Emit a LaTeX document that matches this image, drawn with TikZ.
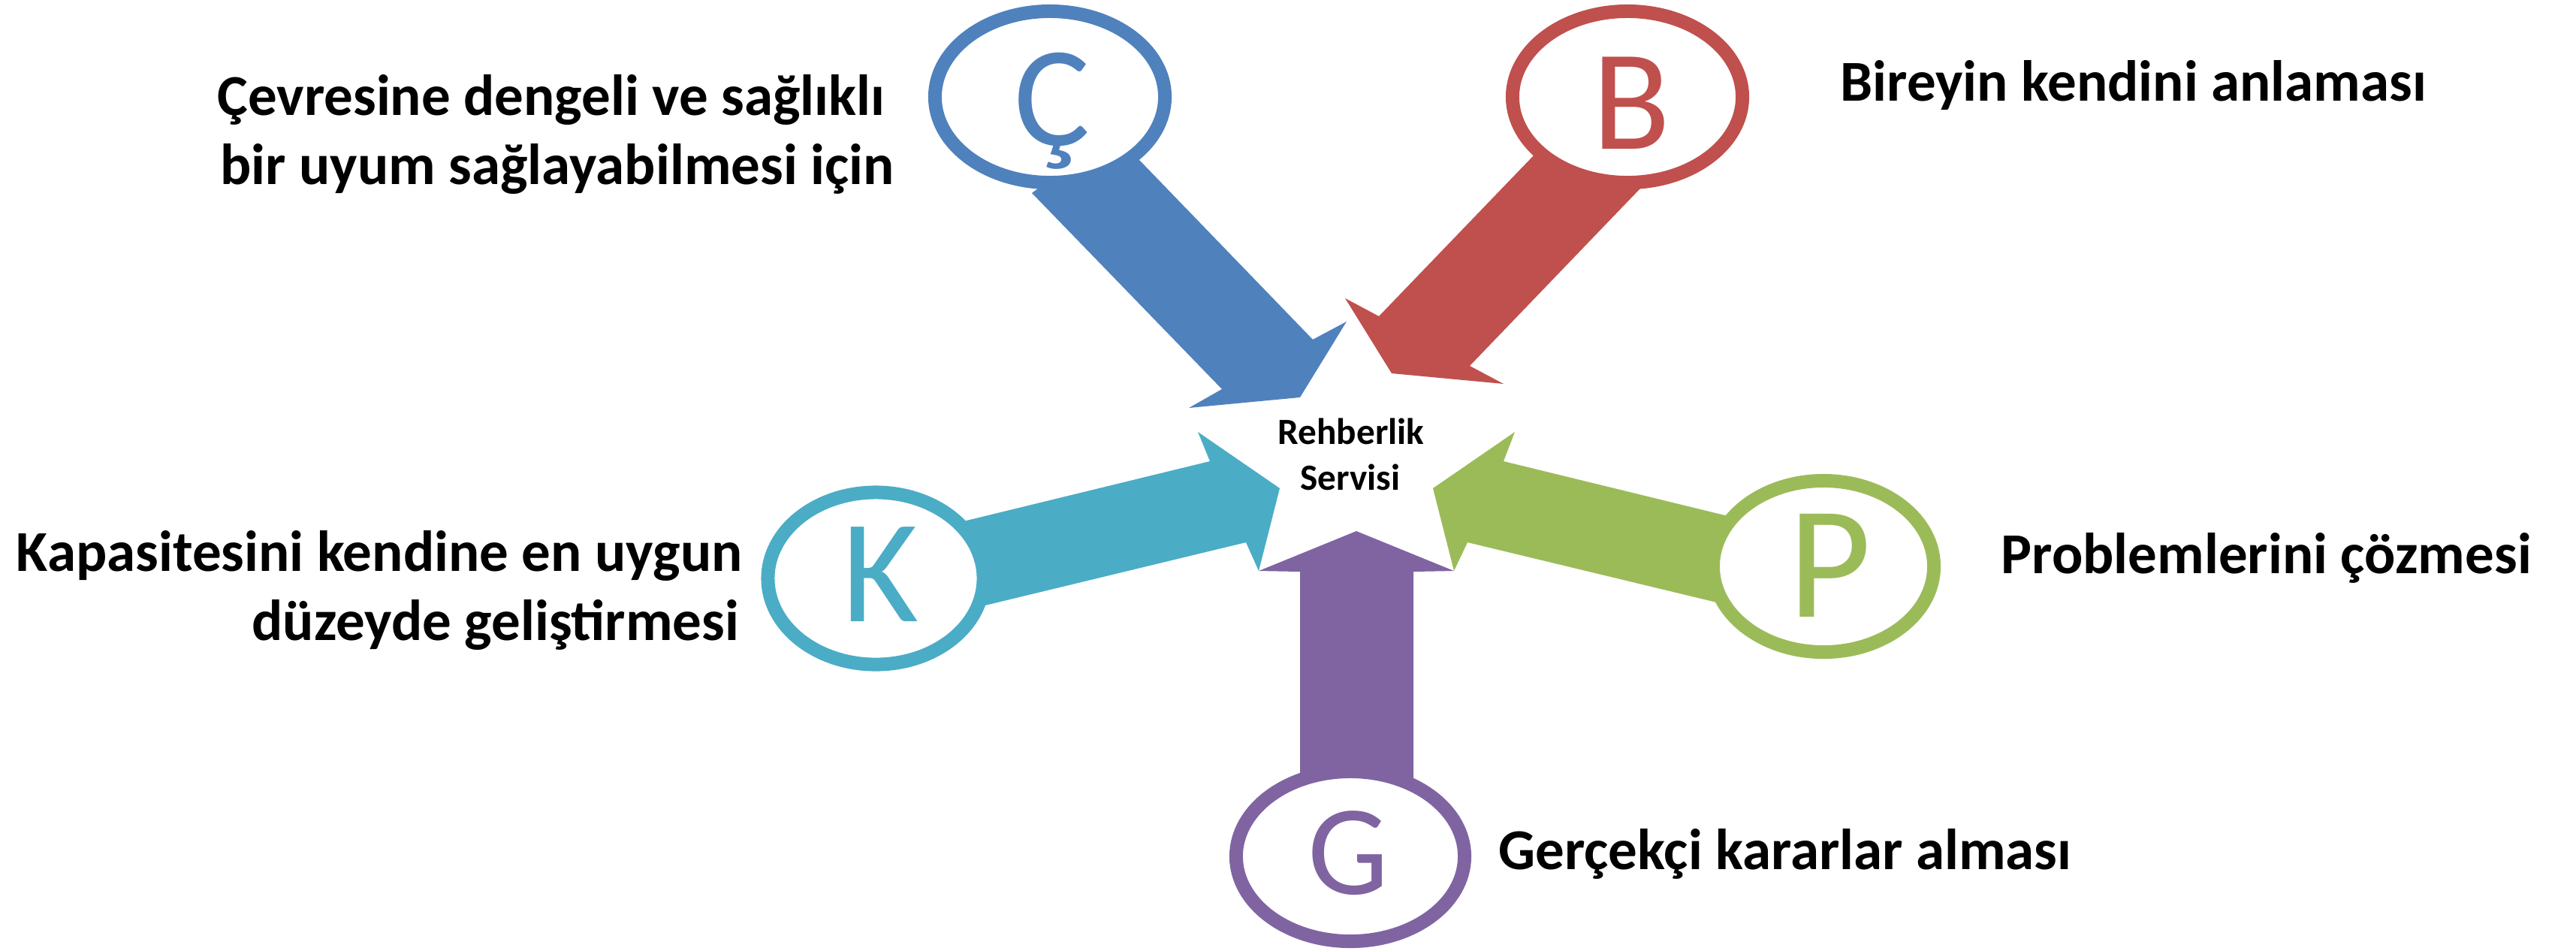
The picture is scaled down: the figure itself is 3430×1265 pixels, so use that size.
\documentclass[tikz,border=0pt]{standalone}
\usepackage{fontspec}
\setmainfont{Carlito}
\usetikzlibrary{shapes.geometric}
\definecolor{cBlue}{HTML}{4F81BD}
\definecolor{cRed}{HTML}{C0504D}
\definecolor{cCyan}{HTML}{4BACC6}
\definecolor{cGreen}{HTML}{9BBB59}
\definecolor{cPurple}{HTML}{8064A2}
\begin{document}
\begin{tikzpicture}[x=0.01cm,y=-0.01cm,
  ring/.style={ellipse, draw, line width=0.18cm, fill=white, inner sep=0pt},
  letter/.style={anchor=base, inner sep=0pt},
  lbl/.style={font=\bfseries\fontsize{21.9pt}{26.2pt}\selectfont, inner sep=0pt},
  mid/.style={font=\bfseries\fontsize{14pt}{17.4pt}\selectfont, inner sep=0pt, anchor=base}]
\useasboundingbox (0,0) rectangle (3430,1265);

% arrows
\fill[cBlue] (1480,176) -- (1374,257) -- (1627,518) -- (1583,543) -- (1731,529)
  -- (1793,428) -- (1748,452) -- (1518,214) -- cycle;
\fill[cRed] (2042,207) -- (1836,421) -- (1791,397) -- (1853,497) -- (2002,511)
  -- (1957,487) -- (2182,253) -- (2210,224) -- cycle;
\fill[cCyan] (1250,702) -- (1611,614) -- (1595,575) -- (1704,650) -- (1676,760)
  -- (1659,722) -- (1270,816) -- cycle;
\fill[cGreen] (2350,699) -- (2002,614) -- (2017,575) -- (1908,650) -- (1936,760)
  -- (1954,722) -- (2340,815) -- cycle;
\fill[cPurple] (1731,1080) -- (1731,761) -- (1676,760) -- (1806,707) -- (1936,760)
  -- (1882,761) -- (1882,1080) -- cycle;

% ellipses
\node[ring, draw=cBlue, minimum width=3.06cm, minimum height=2.28cm] (eC) at (1398,129) {};
\node[ring, draw=cRed, minimum width=3.06cm, minimum height=2.28cm] (eB) at (2167,129) {};
\node[ring, draw=cCyan, minimum width=2.87cm, minimum height=2.29cm] (eK) at (1166,770) {};
\node[ring, draw=cGreen, minimum width=2.94cm, minimum height=2.28cm] (eP) at (2428,754) {};
\node[ring, draw=cPurple, minimum width=3.04cm, minimum height=2.26cm] (eG) at (1798,1140) {};

% letters
\node[letter, text=cBlue, font=\fontsize{54pt}{60pt}\selectfont] (lC) at (1401,193) {Ç};
\node[letter, text=cRed, font=\fontsize{54.3pt}{60pt}\selectfont] (lB) at (2172,198) {B};
\node[letter, text=cCyan, font=\fontsize{55.8pt}{60pt}\selectfont] (lK) at (1172,827) {K};
\node[letter, text=cGreen, font=\fontsize{60.8pt}{66pt}\selectfont] (lP) at (2437,821) {P};
\node[letter, text=cPurple, font=\fontsize{48.6pt}{54pt}\selectfont] (lG) at (1795,1190) {G};

% center text
\node[mid] (c1) at (1799,591) {Rehberlik};
\node[mid] (c2) at (1798,652) {Servisi};

% labels
\node[lbl, anchor=base] (tC1) at (734,153) {Çevresine dengeli ve sağlıklı};
\node[lbl, anchor=base] (tC2) at (742,245) {bir uyum sağlayabilmesi için};
\node[lbl, anchor=base west] (tB) at (2450,134) {Bireyin kendini anlaması};
\node[lbl, anchor=base east] (tK1) at (989,760) {Kapasitesini kendine en uygun};
\node[lbl, anchor=base east] (tK2) at (985,852) {düzeyde geliştirmesi};
\node[lbl, anchor=base west] (tP) at (2664,763) {Problemlerini çözmesi};
\node[lbl, anchor=base west] (tG) at (1995,1157) {Gerçekçi kararlar alması};
\end{tikzpicture}
\end{document}
